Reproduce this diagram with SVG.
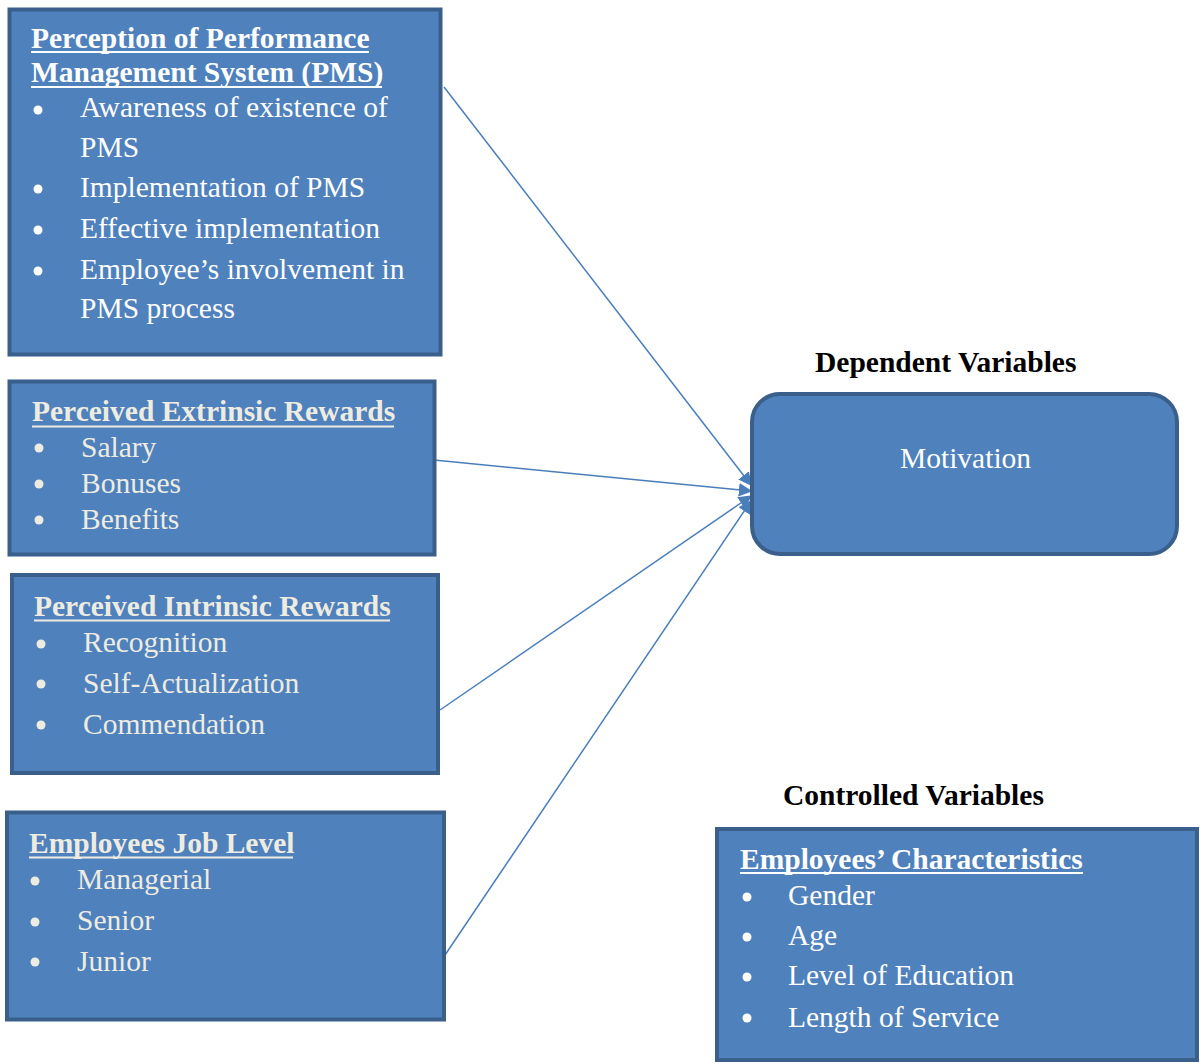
<svg xmlns="http://www.w3.org/2000/svg" width="1202" height="1064" viewBox="0 0 1202 1064">
  <style>
    .box { fill: #4F81BD; stroke: #3A5F8B; stroke-width: 4; }
    .t { font-family: "Liberation Serif", "Times New Roman", serif; font-size: 29.5px; }
    .h { font-weight: bold; }
    .w { fill: #FFFFFF; }
    .c { fill: #EEECE1; }
    .ulw { stroke: #FFFFFF; stroke-width: 2; }
    .ulc { stroke: #EEECE1; stroke-width: 2; }
    .lbl { font-family: "Liberation Serif", "Times New Roman", serif; font-size: 29.5px; font-weight: bold; fill: #000000; }
    .conn { stroke: #4A7EBB; stroke-width: 1.5; fill: none; marker-end: url(#arrow); }
  </style>
  <defs>
    <marker id="arrow" viewBox="0 0 10 10" refX="9" refY="5" markerWidth="9" markerHeight="9" orient="auto" markerUnits="strokeWidth">
      <path d="M0,0 L10,5 L0,10 z" fill="#4A7EBB"/>
    </marker>
  </defs>

  <rect width="1202" height="1064" fill="#FFFFFF"/>

  <!-- section labels -->
  <text class="lbl" x="815" y="372">Dependent Variables</text>
  <text class="lbl" x="783" y="805">Controlled Variables</text>

  <!-- connectors into Motivation -->
  <g id="connectors">
    <line class="conn" x1="444" y1="87" x2="751" y2="485"/>
    <line class="conn" x1="434" y1="460" x2="751" y2="491"/>
    <line class="conn" x1="440" y1="710" x2="751" y2="496"/>
    <line class="conn" x1="443" y1="958" x2="751" y2="501"/>
  </g>

  <g id="pms">
    <rect class="box" x="9.5" y="9.5" width="431" height="345"/>
    <text class="t h w" x="31" y="48">Perception of Performance</text>
    <line class="ulw" x1="31" y1="52" x2="369" y2="52"/>
    <text class="t h w" x="31" y="82">Management System (PMS)</text>
    <line class="ulw" x1="31" y1="87" x2="382" y2="87"/>
    <g class="w">
      <circle cx="38" cy="110" r="4.5"/>
      <circle cx="38" cy="189" r="4.5"/>
      <circle cx="38" cy="230" r="4.5"/>
      <circle cx="38" cy="271" r="4.5"/>
    </g>
    <text class="t w" x="80" y="117">Awareness of existence of</text>
    <text class="t w" x="80" y="157">PMS</text>
    <text class="t w" x="80" y="197">Implementation of PMS</text>
    <text class="t w" x="80" y="238">Effective implementation</text>
    <text class="t w" x="80" y="279">Employee’s involvement in</text>
    <text class="t w" x="80" y="318">PMS process</text>
  </g>

  <g id="extrinsic">
    <rect class="box" x="9.5" y="381.5" width="425" height="173"/>
    <text class="t h c" x="32" y="421">Perceived Extrinsic Rewards</text>
    <line class="ulc" x1="32" y1="426.5" x2="394" y2="426.5"/>
    <g class="c">
      <circle cx="39" cy="448" r="4.5"/>
      <circle cx="39" cy="484" r="4.5"/>
      <circle cx="39" cy="520" r="4.5"/>
    </g>
    <text class="t c" x="81" y="457">Salary</text>
    <text class="t c" x="81" y="493">Bonuses</text>
    <text class="t c" x="81" y="529">Benefits</text>
  </g>

  <g id="intrinsic">
    <rect class="box" x="12" y="575" width="426" height="198"/>
    <text class="t h c" x="34" y="616">Perceived Intrinsic Rewards</text>
    <line class="ulc" x1="34" y1="620.5" x2="390" y2="620.5"/>
    <g class="c">
      <circle cx="41" cy="644" r="4.5"/>
      <circle cx="41" cy="684" r="4.5"/>
      <circle cx="41" cy="725" r="4.5"/>
    </g>
    <text class="t c" x="83" y="652">Recognition</text>
    <text class="t c" x="83" y="693">Self-Actualization</text>
    <text class="t c" x="83" y="734">Commendation</text>
  </g>

  <g id="joblevel">
    <rect class="box" x="7" y="812.5" width="437" height="207"/>
    <text class="t h c" x="29" y="853">Employees Job Level</text>
    <line class="ulc" x1="29" y1="857.5" x2="293" y2="857.5"/>
    <g class="c">
      <circle cx="35" cy="881" r="4.5"/>
      <circle cx="35" cy="922" r="4.5"/>
      <circle cx="35" cy="962" r="4.5"/>
    </g>
    <text class="t c" x="77" y="889">Managerial</text>
    <text class="t c" x="77" y="930">Senior</text>
    <text class="t c" x="77" y="971">Junior</text>
  </g>

  <g id="motivation">
    <rect class="box" x="752" y="394" width="425" height="160" rx="28" ry="28"/>
    <text class="t w" x="900" y="468">Motivation</text>
  </g>

  <g id="characteristics">
    <rect class="box" x="717" y="829" width="480" height="231"/>
    <text class="t h w" x="740" y="869">Employees’ Characteristics</text>
    <line class="ulw" x1="740" y1="873" x2="1083" y2="873"/>
    <g class="w">
      <circle cx="747" cy="897" r="4.5"/>
      <circle cx="747" cy="937" r="4.5"/>
      <circle cx="747" cy="977" r="4.5"/>
      <circle cx="747" cy="1018" r="4.5"/>
    </g>
    <text class="t w" x="788" y="905">Gender</text>
    <text class="t w" x="788" y="945">Age</text>
    <text class="t w" x="788" y="985">Level of Education</text>
    <text class="t w" x="788" y="1027">Length of Service</text>
  </g>
</svg>
